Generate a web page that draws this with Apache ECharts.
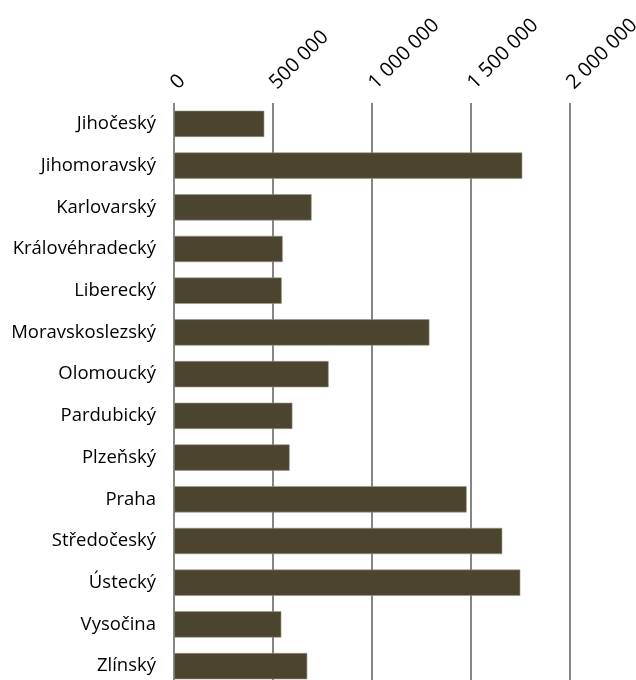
<!DOCTYPE html>
<html>
<head>
<meta charset="utf-8">
<script src="https://cdn.jsdelivr.net/npm/echarts@6/dist/echarts.min.js"></script>
<style>
  html, body { margin: 0; padding: 0; background: #fff; }
  #chart { width: 636px; height: 680px; }
</style>
</head>
<body>
<div id="chart"></div>
<script>
const regions = [
  "Jihočeský", "Jihomoravský", "Karlovarský", "Královéhradecký", "Liberecký",
  "Moravskoslezský", "Olomoucký", "Pardubický", "Plzeňský", "Praha",
  "Středočeský", "Ústecký", "Vysočina", "Zlínský"
];
const values = [
  456000, 1759000, 695000, 549000, 544000,
  1290000, 781000, 598000, 584000, 1478000,
  1658000, 1749000, 542000, 673000
];
const axisMax = 2000000;
const axisStep = 500000;

const fmt = (v) => String(v).replace(/\B(?=(\d{3})+(?!\d))/g, " ");

const myChart = echarts.init(document.getElementById("chart"));
const option = {
  animation: false,
  textStyle: { fontFamily: "Open Sans" },
  grid: {
    left: 174, right: 66, top: 103, bottom: -7,
    containLabel: false,
    outerBoundsMode: "none",
  },
  xAxis: {
    type: "value",
    position: "top",
    min: 0,
    max: axisMax,
    interval: axisStep,
    axisLine: { show: false },
    axisTick: { show: false },
    axisLabel: {
      rotate: -45,
      margin: 17,
      color: "#000",
      fontSize: 20,
      formatter: fmt,
    },
    splitLine: { show: true, lineStyle: { color: "#868686", width: 2 } },
  },
  yAxis: {
    type: "category",
    inverse: true,
    data: regions,
    axisLine: { show: false },
    axisTick: { show: false },
    axisLabel: { color: "#000", fontSize: 18.5, margin: 18 },
  },
  series: [
    {
      type: "bar",
      data: values,
      barCategoryGap: "37%",
      itemStyle: { color: "#4b452f", borderColor: "#9a9688", borderWidth: 0.6 },
    },
  ],
};
option && myChart.setOption(option);
</script>
</body>
</html>
